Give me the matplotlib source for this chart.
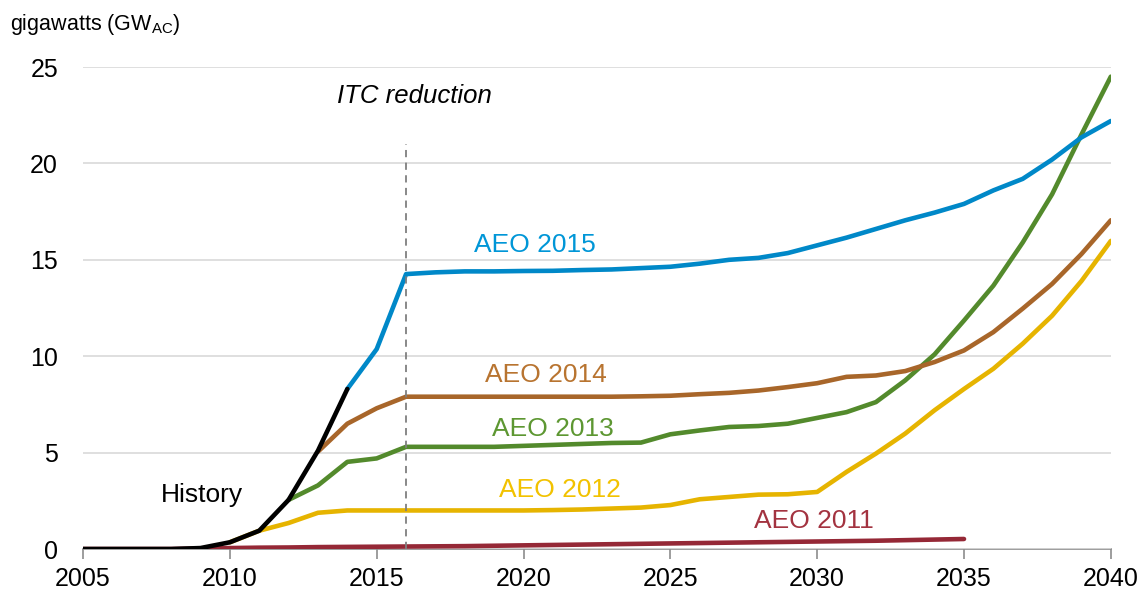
import numpy as np
import matplotlib.pyplot as plt

plt.rcParams['font.family'] = ['Liberation Sans', 'DejaVu Sans']
plt.rcParams['mathtext.fontset'] = 'custom'
plt.rcParams['mathtext.rm'] = 'Liberation Sans'

years_hist = list(range(2005, 2015))
history = [0, 0, 0, 0, 0.05, 0.35, 0.95, 2.55, 5.1, 8.3]

years_2015 = list(range(2014, 2041))
aeo2015 = [8.3, 10.37, 14.26, 14.35, 14.4, 14.4, 14.42, 14.43, 14.47, 14.5,
           14.57, 14.64, 14.8, 15.0, 15.1, 15.35, 15.75, 16.15, 16.6, 17.05,
           17.45, 17.9, 18.6, 19.2, 20.2, 21.35, 22.2]

years_2014 = list(range(2013, 2041))
aeo2014 = [5.05, 6.5, 7.3, 7.9, 7.9, 7.9, 7.9, 7.9, 7.9, 7.9, 7.9, 7.92,
           7.95, 8.03, 8.1, 8.22, 8.4, 8.6, 8.93, 9.0, 9.23, 9.7, 10.3,
           11.25, 12.47, 13.75, 15.3, 17.05]

years_2013 = list(range(2012, 2041))
aeo2013 = [2.55, 3.3, 4.52, 4.7, 5.3, 5.3, 5.3, 5.3, 5.35, 5.4, 5.45, 5.5,
           5.52, 5.95, 6.15, 6.33, 6.38, 6.5, 6.8, 7.1, 7.62, 8.75, 10.1,
           11.85, 13.66, 15.9, 18.4, 21.5, 24.5]

years_2012 = list(range(2010, 2041))
aeo2012 = [0.35, 0.95, 1.35, 1.88, 2.0, 2.0, 2.0, 2.0, 2.0, 2.0, 2.0, 2.02,
           2.05, 2.1, 2.15, 2.28, 2.58, 2.7, 2.82, 2.84, 2.96, 4.0, 4.95,
           5.99, 7.2, 8.3, 9.35, 10.65, 12.1, 13.9, 15.98]

years_2011 = list(range(2005, 2036))
aeo2011 = [0, 0, 0, 0, 0.03, 0.05, 0.07, 0.08, 0.1, 0.11, 0.12, 0.13, 0.14,
           0.15, 0.17, 0.19, 0.21, 0.23, 0.25, 0.27, 0.29, 0.31, 0.33, 0.35,
           0.37, 0.39, 0.41, 0.43, 0.46, 0.49, 0.52]

blue = '#0088c8'
brown = '#a8662a'
green = '#538a2c'
yellow = '#e6b400'
red = '#952836'

fig = plt.figure(figsize=(11.44, 5.92), dpi=100)
ax = fig.add_axes([0.0726, 0.0726, 0.8984, 0.8142])

lw = 3.3
ax.plot(years_2011, aeo2011, color=red, lw=lw, solid_capstyle='round')
ax.plot(years_2012, aeo2012, color=yellow, lw=lw, solid_capstyle='round')
ax.plot(years_2013, aeo2013, color=green, lw=lw, solid_capstyle='round')
ax.plot(years_2014, aeo2014, color=brown, lw=lw, solid_capstyle='round')
ax.plot(years_2015, aeo2015, color=blue, lw=lw, solid_capstyle='round')
ax.plot(years_hist, history, color='black', lw=lw, solid_capstyle='round')

# ITC line
ax.plot([2016, 2016], [0, 21], color='#7f7f7f', lw=1.3, ls=(0, (4, 3)))
ax.text(2016.3, 23.5, 'ITC reduction', style='italic', fontsize=18.5,
        ha='center', va='center')

fs = 19
ax.text(2020.4, 15.75, 'AEO 2015', color='#0096d7', fontsize=fs, ha='center', va='center')
ax.text(2020.75, 9.05, 'AEO 2014', color='#b87430', fontsize=fs, ha='center', va='center')
ax.text(2021.0, 6.25, 'AEO 2013', color='#5d9732', fontsize=fs, ha='center', va='center')
ax.text(2021.25, 3.05, 'AEO 2012', color='#f2c200', fontsize=fs, ha='center', va='center')
ax.text(2029.9, 1.45, 'AEO 2011', color='#a33340', fontsize=fs, ha='center', va='center')
ax.text(2009.05, 2.8, 'History', color='black', fontsize=fs, ha='center', va='center')

ax.set_xlim(2005, 2040)
ax.set_ylim(0, 25)
ax.set_xticks(range(2005, 2041, 5))
ax.set_yticks(range(0, 26, 5))
ax.yaxis.grid(True, color='#d9d9d9', lw=1.2)
ax.set_axisbelow(True)
for s in ['left', 'top', 'right']:
    ax.spines[s].set_visible(False)
ax.spines['bottom'].set_color('#8c8c8c')
ax.spines['bottom'].set_linewidth(1.2)
ax.tick_params(axis='x', colors='#8c8c8c', length=7, width=1.2, labelcolor='black',
               labelsize=18, pad=6)
ax.tick_params(axis='y', length=0, labelsize=18, pad=18)
ax.spines['bottom'].set_zorder(0)

fig.text(0.009, 0.958, r'gigawatts (GW$_{\mathrm{AC}}$)', fontsize=15.5, ha='left', va='center')

fig.savefig('out.png', dpi=100)
